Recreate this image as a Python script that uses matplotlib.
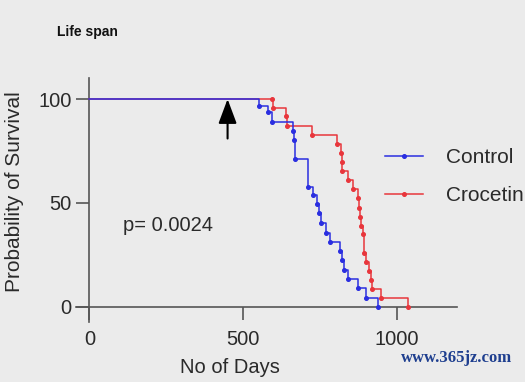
import matplotlib
matplotlib.use("Agg")
import matplotlib.pyplot as plt

# Kaplan-Meier style life span curves
ctrl_days = [552, 583, 596, 662, 665, 671, 713, 728, 741, 748, 753, 769, 783,
             816, 822, 830, 842, 873, 901, 940]
ctrl_surv = [96.8, 93.6, 88.9, 84.6, 80.3, 71.0, 57.8, 53.8, 49.3, 45.3, 40.3,
             35.5, 31.0, 26.9, 22.4, 17.7, 13.3, 9.0, 4.4, 0]

croc_days = [594, 599, 639, 645, 724, 805, 819, 822, 824, 843, 859, 874, 879,
             881, 884, 891, 893, 902, 910, 916, 920, 950, 1038]
croc_surv = [100, 95.5, 91.8, 86.9, 82.6, 78.5, 74.2, 69.8, 65.3, 61.0, 56.5,
             52.2, 47.7, 43.3, 39.0, 34.8, 26.1, 21.7, 17.2, 12.9, 8.6, 4.2, 0]

x_ticks = [0, 500, 1000]
y_ticks = [0, 50, 100]
arrow_day = 450
p_text = "p= 0.0024"

BG = "#ebebeb"
AX_COL = "#555555"
TXT = "#2a2a2a"
BLUE = "#2a2ee0"
RED = "#e8363c"

plt.rcParams['font.family'] = ['Liberation Sans', 'DejaVu Sans']

fig = plt.figure(figsize=(5.25, 3.82), dpi=100, facecolor=BG)
ax = fig.add_axes([0.145, 0.158, 0.725, 0.637])
ax.set_facecolor(BG)

# step curves start at 100 % on day 0
ax.step([0] + croc_days, [100] + croc_surv, where="post", color=RED, lw=1.1, zorder=3)
ax.plot(croc_days, croc_surv, "o", color=RED, ms=2.6, zorder=4, clip_on=False)
ax.step([0] + ctrl_days, [100] + ctrl_surv, where="post", color=BLUE, lw=1.1, zorder=3)
ax.plot(ctrl_days, ctrl_surv, "o", color=BLUE, ms=2.6, zorder=4, clip_on=False)

# legend handles
ax.plot([], [], "-o", color=BLUE, lw=1.1, ms=2.6, label="Control")
ax.plot([], [], "-o", color=RED, lw=1.1, ms=2.6, label="Crocetin")

ax.set_xlim(-43, 1196)
ax.set_ylim(-7.2, 110)

for s in ["top", "right"]:
    ax.spines[s].set_visible(False)
for s in ["left", "bottom"]:
    ax.spines[s].set_position(("data", 0))
    ax.spines[s].set_color(AX_COL)
    ax.spines[s].set_linewidth(1.2)

ax.set_xticks(x_ticks)
ax.set_yticks(y_ticks)
ax.tick_params(direction="out", length=9.6, width=1.2, color=AX_COL,
               labelsize=14.5, labelcolor=TXT)
ax.tick_params(axis="x", pad=7)
ax.tick_params(axis="y", pad=3)

ax.set_xlabel("No of Days", fontsize=14.5, color=TXT)
ax.xaxis.set_label_coords(0.404, -0.15)
ax.set_ylabel("Probability of Survival", fontsize=15, color=TXT, va="center")
ax.yaxis.set_label_coords(-0.162, 0.534)

# treatment start arrow
ax.annotate("", xy=(arrow_day, 100), xytext=(arrow_day, 81),
            arrowprops=dict(arrowstyle="-|>,head_length=0.75,head_width=0.28",
                            mutation_scale=20, lw=1.5, color="black",
                            shrinkA=0, shrinkB=0), zorder=5)

ax.text(110, 38.9, p_text, fontsize=14.5, color=TXT, va="center", ha="left")

ax.legend(loc="center left", bbox_to_anchor=(0.733, 0.537), bbox_transform=fig.transFigure,
          frameon=False, fontsize=15, handlelength=1.85, handletextpad=1.1,
          labelspacing=0.9, borderpad=0, borderaxespad=0, numpoints=1,
          labelcolor=TXT)

fig.text(57 / 525, 1 - 32 / 382, "Life span", fontsize=10, fontweight="bold",
         color="#111111", va="center", ha="left")
fig.text(401 / 525, 1 - 358 / 382, "www.365jz.com", fontsize=12, color="#1f3f8f",
         family=["Liberation Serif", "DejaVu Serif"], fontweight="bold",
         va="center", ha="left")

fig.savefig("out.png", dpi=100, facecolor=BG)
